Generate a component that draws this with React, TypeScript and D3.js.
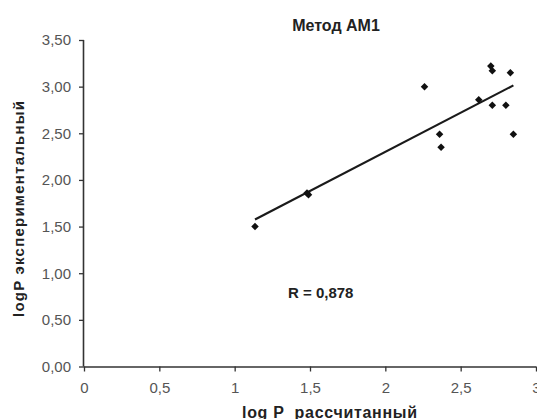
import React, { useEffect, useRef } from "react";
import * as d3 from "d3";

const calcLogP = [1.135, 1.48, 1.49, 2.26, 2.36, 2.37, 2.62, 2.7, 2.71, 2.71, 2.8, 2.83, 2.85];
const expLogP = [1.5, 1.86, 1.84, 3.0, 2.49, 2.35, 2.86, 3.22, 3.17, 2.8, 2.8, 3.15, 2.49];
const xTicks = [0, 0.5, 1, 1.5, 2, 2.5, 3];
const yTicks = [0, 0.5, 1, 1.5, 2, 2.5, 3, 3.5];

const W = 537;
const H = 419;
const FONT = "'Liberation Sans', Arial, sans-serif";

const App = () => {
  const ref = useRef<SVGSVGElement>(null);

  useEffect(() => {
    const svg = d3.select(ref.current);
    svg.selectAll("*").remove();

    const x = d3.scaleLinear().domain([0, 3]).range([84, 536]);
    const y = d3.scaleLinear().domain([0, 3.5]).range([366.5, 40]);
    const comma = (v: number, digits: number) => v.toFixed(digits).replace(".", ",");

    // y axis
    const gy = svg
      .append("g")
      .attr("transform", `translate(${x(0)},0)`)
      .call(
        d3
          .axisLeft(y)
          .tickValues(yTicks)
          .tickSize(5)
          .tickPadding(8)
          .tickFormat((d) => comma(+d, 2))
      );
    // x axis
    const gx = svg
      .append("g")
      .attr("transform", `translate(0,${y(0)})`)
      .call(
        d3
          .axisBottom(x)
          .tickValues(xTicks)
          .tickSize(5)
          .tickPadding(11)
          .tickFormat((d) => (Number.isInteger(+d) ? String(d) : comma(+d, 1)))
      );
    [gx, gy].forEach((g) => {
      g.select(".domain").attr("stroke", "#333").attr("stroke-width", 1.6);
      g.selectAll(".tick line").attr("stroke", "#333").attr("stroke-width", 1.3);
      g.selectAll(".tick text")
        .attr("fill", "#555")
        .style("font-family", FONT)
        .style("font-size", "15px");
    });
    gx.select(".domain").attr("d", `M${x(0)},0.5H${x(3)}`);
    gy.select(".domain").attr("d", `M-0.5,${y(0)}V${y(3.5)}`);

    // linear trend (least squares)
    const mx = d3.mean(calcLogP)!;
    const my = d3.mean(expLogP)!;
    const sxy = d3.sum(calcLogP, (v, i) => (v - mx) * (expLogP[i] - my));
    const sxx = d3.sum(calcLogP, (v) => (v - mx) ** 2);
    const slope = sxy / sxx;
    const icpt = my - slope * mx;
    const [x0, x1] = d3.extent(calcLogP) as [number, number];
    svg
      .append("line")
      .attr("x1", x(x0))
      .attr("y1", y(icpt + slope * x0))
      .attr("x2", x(x1))
      .attr("y2", y(icpt + slope * x1))
      .attr("stroke", "#1a1a1a")
      .attr("stroke-width", 2.2);

    // diamond markers
    const diamond = d3.symbol().type(d3.symbolDiamond2).size(36);
    svg
      .append("g")
      .selectAll("path")
      .data(calcLogP)
      .join("path")
      .attr("d", diamond)
      .attr("transform", (d, i) => `translate(${x(d)},${y(expLogP[i])})`)
      .attr("fill", "#111");

    const label = (sel: d3.Selection<SVGTextElement, unknown, null, undefined>, size: number) =>
      sel
        .style("font-family", FONT)
        .style("font-weight", "bold")
        .style("font-size", `${size}px`)
        .attr("fill", "#222");

    svg
      .append("text")
      .attr("x", 336)
      .attr("y", 30.5)
      .attr("text-anchor", "middle")
      .call(label, 16)
      .text("Метод АМ1");

    svg
      .append("text")
      .attr("x", 288)
      .attr("y", 298)
      .call(label, 15)
      .text("R = 0,878");

    svg
      .append("text")
      .attr("transform", `translate(23.5,209) rotate(-90)`)
      .attr("text-anchor", "middle")
      .attr("textLength", 216)
      .attr("lengthAdjust", "spacing")
      .call(label, 15)
      .text("logP экспериментальный");

    svg
      .append("text")
      .attr("x", 242)
      .attr("y", 418)
      .attr("textLength", 175)
      .attr("lengthAdjust", "spacing")
      .attr("xml:space", "preserve")
      .call(label, 16)
      .text("log P  рассчитанный");
  }, []);

  return (
    <svg
      ref={ref}
      width={W}
      height={H}
      style={{ position: "absolute", left: 0, top: 0, background: "#fff" }}
    />
  );
};

export default App;
